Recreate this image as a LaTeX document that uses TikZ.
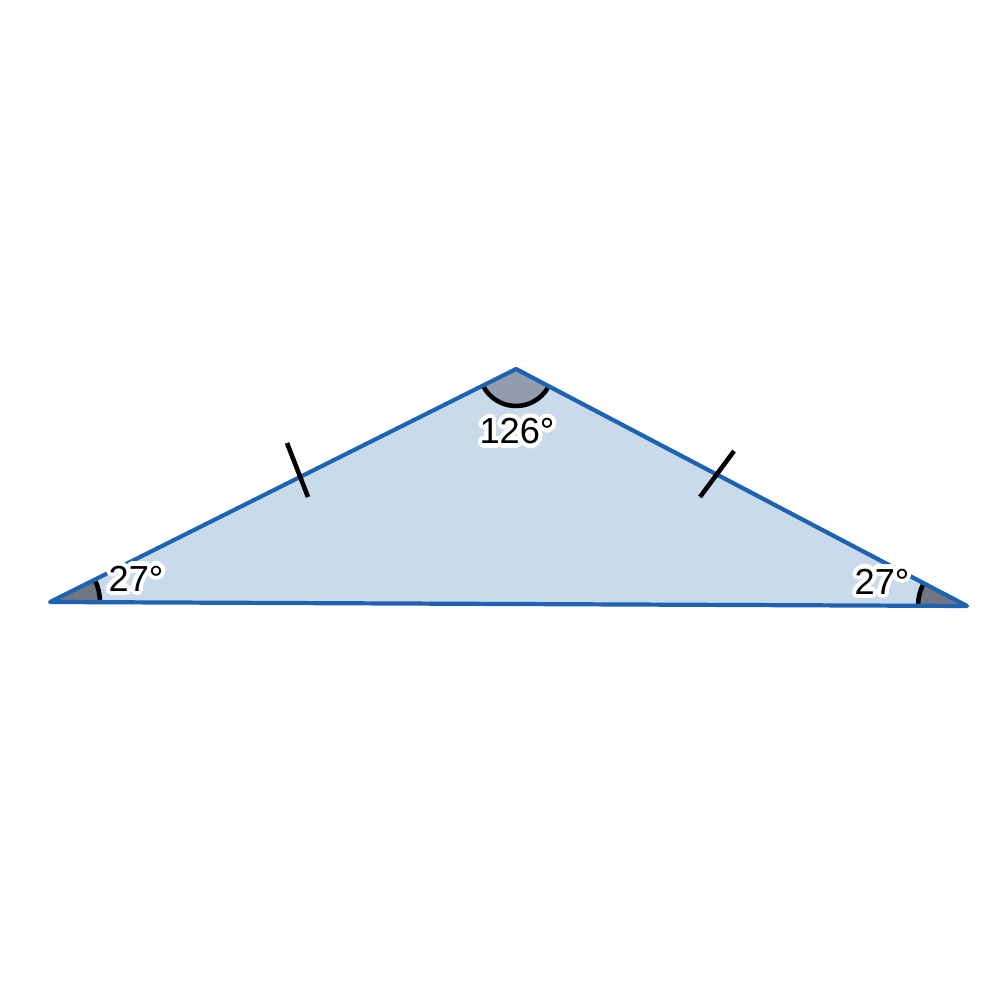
\documentclass[tikz,border=0pt]{standalone}
\usepackage{fontspec}
\setmainfont{Liberation Sans}
\usepackage{contour}
\contourlength{1.2pt}
\usetikzlibrary{angles,positioning}
\definecolor{edgeblue}{RGB}{30,98,178}
\definecolor{faceblue}{RGB}{201,218,235}
\definecolor{topgray}{RGB}{146,156,172}
\definecolor{basegray}{RGB}{112,118,130}
\tikzset{
  face/.style    = {fill=faceblue, draw=none},
  side/.style    = {draw=edgeblue, line width=1.2pt, line join=round},
  angmark/.style = {draw=black, line width=1.3pt},
  tick/.style    = {draw=black, line width=1.3pt},
  deg/.style     = {font=\fontsize{10.3}{12}\selectfont, inner sep=1pt}
}

\begin{document}
\begin{tikzpicture}
\useasboundingbox (0,0) rectangle (10,10);
% corners of the triangle
\coordinate (A) at (0.50,3.98);
\coordinate (B) at (9.67,3.94);
\coordinate (C) at (5.16,6.31);
% shading
\path[face] (A) -- (B) -- (C) -- cycle;
% angle marks
\pic[angmark, fill=basegray, angle radius=0.50cm] {angle = B--A--C};
\pic[angmark, fill=basegray, angle radius=0.49cm] {angle = C--B--A};
\pic[angmark, fill=topgray, angle radius=0.37cm] {angle = A--C--B};
% outline
\draw[side] (A) -- (B) -- (C) -- cycle;
% equal sides
\coordinate (t1a) at (2.87,5.57);
\coordinate (t1b) at (3.08,5.03);
\coordinate (t2a) at (7.34,5.49);
\coordinate (t2b) at (7.00,5.03);
\draw[tick] (t1a) -- (t1b);
\draw[tick] (t2a) -- (t2b);
% labels
\node[deg] (lA) at (1.36,4.195) {\contour{white}{27°}};
\node[deg] (lB) at (8.82,4.165) {\contour{white}{27°}};
\node[deg] (lC) at (5.17,5.665) {\contour{white}{126°}};
\end{tikzpicture}
\end{document}
